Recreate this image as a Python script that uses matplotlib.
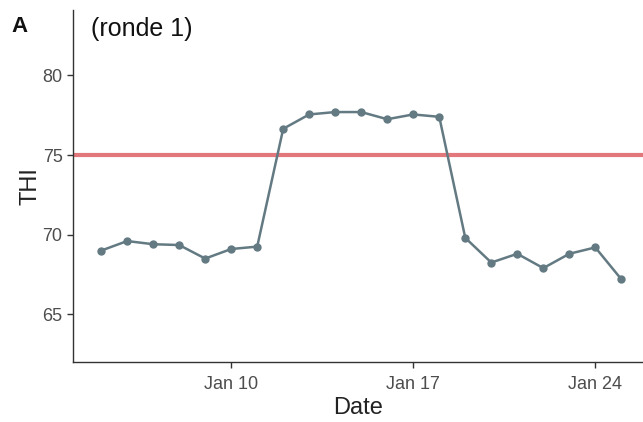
import matplotlib
matplotlib.use("Agg")
import matplotlib.pyplot as plt
import pandas as pd

plt.rcParams['font.family'] = ['Liberation Sans', 'DejaVu Sans']

# Daily mean THI, Jan 5 - Jan 25
dates = pd.date_range("2021-01-05", "2021-01-25", freq="D")
thi = [69.0, 69.6, 69.4, 69.35, 68.5, 69.1, 69.25, 76.65, 77.55, 77.7, 77.7,
       77.25, 77.55, 77.4, 69.8, 68.25, 68.8, 67.9, 68.8, 69.2, 67.2]
threshold = 75
y_ticks = [65, 70, 75, 80]
x_ticks = pd.to_datetime(["2021-01-10", "2021-01-17", "2021-01-24"])
x_labels = ["Jan 10", "Jan 17", "Jan 24"]

fig = plt.figure(figsize=(6.43, 4.22), dpi=100)
ax = fig.add_axes([0.1135, 0.142, 0.8865, 0.834])

ax.axhline(threshold, color="#E3787C", lw=3.0, zorder=1)
ax.plot(dates, thi, color="#637A83", lw=1.8, marker="o", ms=5, zorder=2)

ax.set_ylim(62.0, 84.1)
ax.set_xlim(pd.Timestamp("2021-01-03 22:00"), pd.Timestamp("2021-01-25 20:00"))
ax.set_yticks(y_ticks)
ax.set_xticks(x_ticks)
ax.set_xticklabels(x_labels)

for s in ["top", "right"]:
    ax.spines[s].set_visible(False)
for s in ["left", "bottom"]:
    ax.spines[s].set_color("#333333")
    ax.spines[s].set_linewidth(1.0)

ax.tick_params(axis="both", colors="#333333", length=4, width=1.0,
               labelsize=13, labelcolor="#4D4D4D")
ax.tick_params(axis="x", pad=6)
ax.set_xlabel("Date", fontsize=17, color="#222222", labelpad=3)
ax.set_ylabel("THI", fontsize=17, color="#222222", labelpad=1)

fig.text(0.018, 0.925, "A", fontsize=16, fontweight="bold", color="#111111")
fig.text(0.141, 0.915, "(ronde 1)", fontsize=18, color="#111111")

fig.savefig("out.png", dpi=100)
